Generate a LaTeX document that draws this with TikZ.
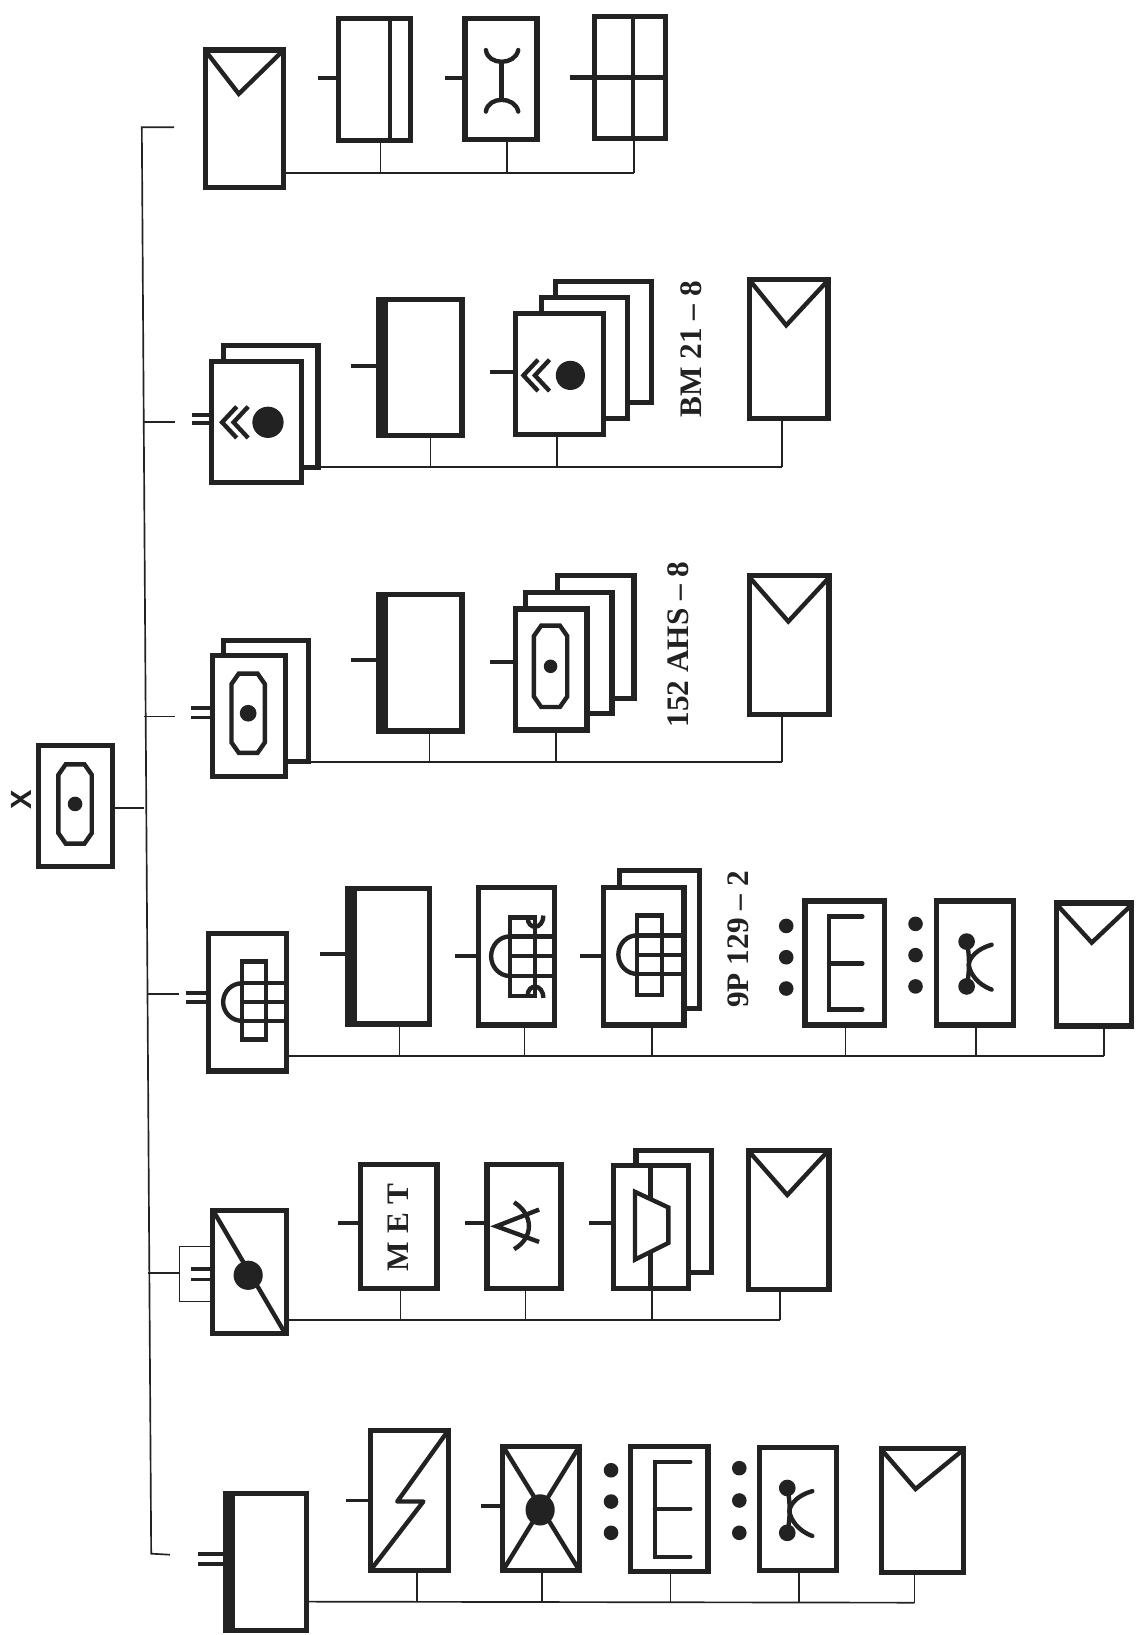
\documentclass[tikz,border=0pt]{standalone}
\usepackage{fontspec}
\setmainfont{Liberation Serif}
\newfontfamily\sansf{Liberation Sans}
\definecolor{ink}{HTML}{222222}
\tikzset{
 bxs/.style={draw=ink,line width=5pt,fill=white,inner sep=0pt,minimum width=10pt,minimum height=10pt},
 sym/.style={draw=ink,line width=4.2pt},
 fine/.style={draw=ink,line width=1.6pt},
 hair/.style={draw=ink,line width=0.8pt},
 stub/.style={draw=ink,line width=3.6pt},
 dub/.style={draw=ink,line width=3.6pt},
 lab/.style={rotate=90,text=ink,font=\bfseries\fontsize{30}{32}\selectfont,inner sep=0pt},
}
\newcommand\bx[5]{%
 \pgfmathsetmacro\cxv{(#2+#4)/2}\pgfmathsetmacro\cyv{(#3+#5)/2}%
 \pgfmathsetmacro\wv{#4-#2-4}\pgfmathsetmacro\hv{#5-#3-4}%
 \node[bxs,minimum width=\wv pt,minimum height=\hv pt] (#1) at (\cxv,\cyv) {};}
\newcommand\thickbx[5]{\bx{#1}{#2}{#3}{#4}{#5}%
 \fill[ink] (#2-0.5,#3-0.5) rectangle (#2+11,#5+0.5);}
% V mark: x1 y1 xm ym x2
\newcommand\vmark[5]{\draw[sym,line join=miter] (#1,#2) -- (#3,#4) -- (#5,#2);}
\newcommand\octa[5]{% cx cy halfw halfh dotr
 \draw[sym] (#1-#3+7,#2-#4) -- (#1+#3-7,#2-#4) -- (#1+#3,#2-#4+10) -- (#1+#3,#2+#4-10) -- (#1+#3-7,#2+#4) -- (#1-#3+7,#2+#4) -- (#1-#3,#2+#4-10) -- (#1-#3,#2-#4+10) -- cycle;
 \fill[ink] (#1,#2) circle (#5);}
\newcommand\chev[3]{% x y dotx
 \draw[sym] (#1+14,#2-15) -- (#1,#2) -- (#1+14,#2+15);
 \draw[sym] (#1+25,#2-15) -- (#1+11,#2) -- (#1+25,#2+15);}
\newcommand\gridsym[8]{% x1 y1 x2 y2 h1 h2 h3 xend ; arc radius from h1..h3
 \draw[sym] (#1,#2) rectangle (#3,#4);
 \draw[sym] (#1,#5) -- (#8,#5) (#1,#6) -- (#8,#6) (#1,#7) -- (#8,#7);
 \draw[sym] (#1,#5) arc[start angle=90,end angle=270,x radius=18,y radius=-(#7-#5)/2];}
\newcommand\esym[5]{% xv y1 ym y2 xr
 \draw[sym,line cap=round] (#5,#2) -- (#1,#2) -- (#1,#4) -- (#5,#4) (#1,#3) -- (#5,#3);}
\newcommand\threedots[4]{\fill[ink] (#1,#2) circle (7) (#1,#3) circle (7) (#1,#4) circle (7);}
\newcommand\ksym[2]{% x of dots, y of top dot
 \fill[ink] (#1,#2) circle (8) (#1,#2+43) circle (8);
 \draw[sym] (#1,#2) .. controls (#1+3,#2+12) and (#1+3,#2+30) .. (#1,#2+43);
 \draw[sym,line cap=round] (#1+24,#2+3) .. controls (#1+10,#2+7) and (#1+3,#2+15) .. (#1+2,#2+22);
 \draw[sym,line cap=round] (#1+24,#2+46) .. controls (#1+10,#2+41) and (#1+3,#2+30) .. (#1+2,#2+22);}
\begin{document}
\begin{tikzpicture}[x=1pt,y=-1pt]
\useasboundingbox (0,0) rectangle (1089,1568);
\fill[white] (0,0) rectangle (1089,1568);
% trunk
\coordinate (t0) at (136,122);
\coordinate (t1) at (145,1490);
\draw[fine] (167,122) -- (t0) -- (t1) -- (163,1491);
% root
\bx{root}{35}{713}{110}{833}
\octa{72}{771}{16}{38}{7}
\node[rotate=90,inner sep=0pt,text=ink,font=\sansf\bfseries\fontsize{28}{30}\selectfont] (xl) at (21,767) {X};
\coordinate (trr) at (138,775);
\draw[fine] (root.east |- trr) -- (trr);
% ROW 1
\bx{ma}{195}{46}{274}{182}
\vmark{198}{50}{229}{90}{270}
\bx{a1}{323}{16}{396}{137}
\draw[sym,line width=4.5pt] (374,16) -- (374,137);
\bx{a2}{444}{16}{517}{136}
\draw[sym] (481,60) -- (481,95);
\draw[sym,line cap=round] (466,48) .. controls (468,63) and (494,63) .. (497,48);
\draw[sym,line cap=round] (466,107) .. controls (468,92) and (494,92) .. (497,107);
\bx{a3}{568}{14}{640}{135}
\draw[sym] (607,14) -- (607,135);
\draw[sym,line width=5pt] (a3.east |- 0,74) -- (547,74);
\draw[stub] (a1.west |- 0,75) -- ++(-18,0);
\draw[stub] (a2.west |- 0,75) -- ++(-17,0);
\draw[fine] (ma.east |- 0,166) -- (608,166);
\draw[fine] (a1.south -| 365,0) -- (365,166);
\draw[fine] (a2.south -| 486,0) -- (486,166);
\draw[fine] (a3.south -| 608,0) -- (608,166);
% ROW 2
\draw[fine] (137,405) -- (168,405);
\bx{mb2}{212}{329}{307}{450}
\bx{mb}{201}{345}{291}{465}
\chev{213}{405}{}
\fill[ink] (257,405) circle (15);
\draw[dub] (mb.west |- 0,398) -- ++(-16,0);
\draw[dub] (mb.west |- 0,406) -- ++(-16,0);
\thickbx{b1}{361}{285}{445}{420}
\draw[stub] (b1.west |- 0,351) -- ++(-24,0);
\bx{b4}{531}{268}{627}{388}
\bx{b3}{517}{283}{604}{403}
\bx{b2}{492}{299}{581}{419}
\chev{502}{360}{}
\fill[ink] (547,360) circle (14);
\draw[stub] (b2.west |- 0,357) -- ++(-22,0);
\node[lab] (lb) at (663,335) {BM 21 – 8};
\bx{b5}{717}{266}{796}{403}
\vmark{720}{270}{754}{312}{793}
\draw[fine] (mb2.east |- 0,448) -- (750,448);
\draw[fine] (b1.south -| 413,0) -- (413,448);
\draw[fine] (b2.south -| 534,0) -- (534,448);
\draw[fine] (b5.south -| 750,0) -- (750,448);
% ROW 3
\draw[fine] (138,687) -- (168,687);
\bx{mc2}{212}{612}{298}{732}
\bx{mc}{202}{627}{276}{747}
\octa{238}{684}{16}{38}{8}
\draw[dub] (mc.west |- 0,679) -- ++(-18,0);
\draw[dub] (mc.west |- 0,688) -- ++(-18,0);
\thickbx{c1}{361}{568}{445}{703}
\draw[stub] (c1.west |- 0,633) -- ++(-24,0);
\bx{c4}{533}{550}{610}{672}
\bx{c3}{502}{566}{589}{686}
\bx{c2}{492}{582}{565}{702}
\octa{528}{639}{16}{39}{6.5}
\draw[stub] (c2.west |- 0,635) -- ++(-22,0);
\node[lab] (lc) at (650,618) {152 AHS – 8};
\bx{c5}{717}{550}{797}{687}
\vmark{720}{555}{756}{596}{794}
\draw[fine] (mc2.east |- 0,731) -- (750,731);
\draw[fine] (c1.south -| 412,0) -- (412,731);
\draw[fine] (c2.south -| 533,0) -- (533,731);
\draw[fine] (c5.south -| 750,0) -- (750,731);
% ROW 4
\draw[fine] (141,953) -- (172,953);
\bx{md}{198}{893}{277}{1029}
\gridsym{232}{922}{255}{997}{943}{961}{979}{275}
\draw[dub] (md.west |- 0,952) -- ++(-19,0);
\draw[dub] (md.west |- 0,961) -- ++(-19,0);
\thickbx{d1}{331}{850}{414}{984}
\draw[stub] (d1.west |- 0,915) -- ++(-24,0);
\bx{d2}{457}{849}{534}{985}
\gridsym{489}{880}{513}{955}{898}{917}{936}{530}
\draw[sym] (506,880) .. controls (506,892) and (521,892) .. (521,878);
\draw[sym] (506,955) .. controls (506,943) and (521,943) .. (521,957);
\draw[stub] (d2.west |- 0,917) -- ++(-20,0);
\bx{d4}{592}{833}{673}{969}
\bx{d3}{577}{849}{658}{985}
\gridsym{611}{878}{635}{954}{897}{916}{934}{656}
\draw[stub] (d3.west |- 0,917) -- ++(-20,0);
\node[lab] (ld) at (708,901) {9P 129 – 2};
\threedots{754}{888}{918}{948}
\bx{d5}{770}{862}{850}{985}
\esym{795}{879}{924}{968}{827}
\threedots{878}{886}{916}{946}
\bx{d6}{896}{862}{974}{985}
\ksym{927}{903}
\bx{d7}{1011}{864}{1087}{986}
\vmark{1014}{868}{1047}{904}{1085}
\draw[fine] (md.east |- 0,1013) -- (1059,1013);
\draw[fine] (d1.south -| 383,0) -- (383,1013);
\draw[fine] (d2.south -| 503,0) -- (503,1013);
\draw[fine] (d3.south -| 625,0) -- (625,1013);
\draw[fine] (d5.south -| 811,0) -- (811,1013);
\draw[fine] (d6.south -| 936,0) -- (936,1013);
\draw[fine] (d7.south -| 1059,0) -- (1059,1013);
% ROW 5
\draw[fine] (142,1221) -- (172,1221);
\bx{me}{202}{1159}{277}{1281}
\draw[hair] (me.west |- 0,1195) -- (172,1195) -- (172,1248) -- (me.west |- 0,1248);
\draw[sym] (205,1162) -- (273,1278);
\fill[ink] (238,1223) ellipse (14 and 14);
\draw[dub] (me.west |- 0,1217) -- ++(-18,0);
\draw[dub] (me.west |- 0,1227) -- ++(-18,0);
\bx{e1}{344}{1115}{421}{1238}
\node[rotate=90,inner sep=0pt,text=ink,font=\bfseries\fontsize{30}{32}\selectfont] (met) at (382,1177) {M\hspace{8pt}E\hspace{8pt}T};
\draw[stub] (e1.west |- 0,1173) -- ++(-19,0);
\bx{e2}{465}{1115}{540}{1238}
\draw[sym] (517,1160) -- (476,1176) -- (517,1191);
\draw[sym] (493,1153) .. controls (512,1165) and (512,1187) .. (493,1198);
\draw[stub] (e2.west |- 0,1173) -- ++(-19,0);
\bx{e4}{608}{1101}{684}{1222}
\bx{e3}{586}{1116}{662}{1238}
\draw[sym] (624,1116) -- (624,1150) (624,1200) -- (624,1238);
\draw[sym,fill=white] (609,1143) -- (641,1158) -- (641,1192) -- (609,1208) -- cycle;
\draw[stub] (e3.west |- 0,1173) -- ++(-21,0);
\bx{e5}{716}{1101}{797}{1239}
\vmark{719}{1105}{755}{1146}{793}
\draw[fine] (me.east |- 0,1266) -- (748,1266);
\draw[fine] (e1.south -| 384,0) -- (384,1266);
\draw[fine] (e2.south -| 504,0) -- (504,1266);
\draw[fine] (e3.south -| 625,0) -- (625,1266);
\draw[fine] (e5.south -| 748,0) -- (748,1266);
% ROW 6
\thickbx{mf}{214}{1430}{296}{1566}
\draw[dub] (mf.west |- 0,1490) -- ++(-24,0);
\draw[dub] (mf.west |- 0,1500) -- ++(-24,0);
\bx{f1}{353}{1370}{432}{1508}
\draw[sym,line join=round] (429,1373) -- (381,1440) -- (406,1440) -- (356,1505);
\draw[stub] (f1.west |- 0,1439) -- ++(-21,0);
\bx{f2}{480}{1385}{558}{1508}
\draw[sym] (483,1388) -- (555,1505) (555,1388) -- (483,1505);
\fill[ink] (518,1448) ellipse (14 and 15);
\draw[stub] (f2.west |- 0,1444) -- ++(-18,0);
\threedots{586}{1410}{1440}{1470}
\bx{f3}{603}{1385}{681}{1509}
\esym{628}{1402}{1447}{1493}{662}
\threedots{709}{1408}{1439}{1470}
\bx{f4}{726}{1386}{804}{1508}
\ksym{755}{1427}
\bx{f5}{843}{1387}{926}{1510}
\vmark{846}{1391}{878}{1428}{923}
\draw[fine] (mf.east |- 0,1536) -- (877,1537);
\draw[fine] (f1.south -| 400,0) -- (400,1536);
\draw[fine] (f2.south -| 520,0) -- (520,1536);
\draw[fine] (f3.south -| 643,0) -- (643,1536);
\draw[fine] (f4.south -| 766,0) -- (766,1537);
\draw[fine] (f5.south -| 877,0) -- (877,1537);
\end{tikzpicture}
\end{document}
